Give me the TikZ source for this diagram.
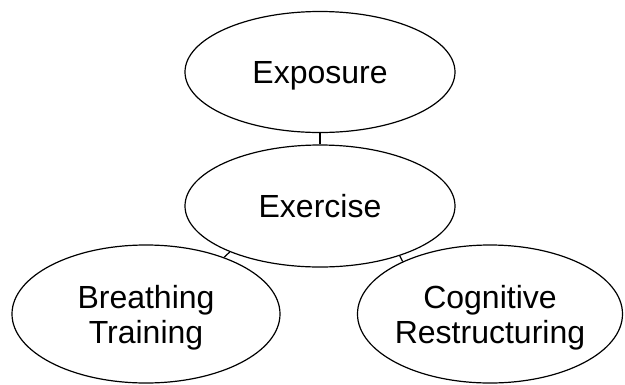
\documentclass[tikz,border=0pt]{standalone}
\usepackage{fontspec}
\setmainfont{Liberation Sans}
\usetikzlibrary{shapes.geometric}
\begin{document}
\begin{tikzpicture}[x=1pt,y=-1pt,
  oval/.style={ellipse, draw=black, line width=1.2pt, inner sep=-20pt, align=center,
    text depth=0pt, font=\fontsize{32}{35}\selectfont},
  link/.style={draw=black, line width=1.2pt}]
\useasboundingbox (0,0) rectangle (625,384);
\node[oval, minimum width=270pt, minimum height=121pt] (exposure) at (320,72) {Exposure};
\node[oval, minimum width=270pt, minimum height=122pt] (exercise) at (320,206) {Exercise};
\node[oval, minimum width=268pt, minimum height=138pt] (breathing) at (146,314) {Breathing\\Training};
\node[oval, minimum width=265pt, minimum height=138pt] (cognitive) at (490,314) {Cognitive\\Restructuring};
\draw[link] (exposure) -- (exercise);
\draw[link] (exercise.207) -- (breathing.36);
\draw[link] (exercise.328) -- (cognitive.149);
\end{tikzpicture}
\end{document}
